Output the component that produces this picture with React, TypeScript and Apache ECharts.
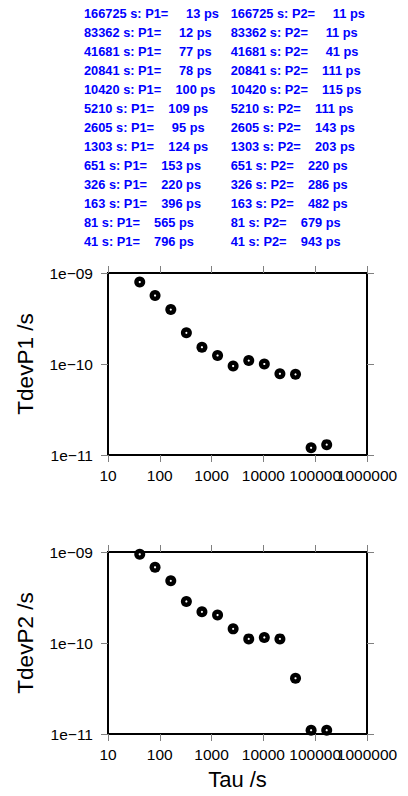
import React, { useEffect, useRef } from "react";
import * as echarts from "echarts";

// Averaging times (s)
const tau = [41, 81, 163, 326, 651, 1303, 2605, 5210, 10420, 20841, 41681, 83362, 166725];
// TDEV values in picoseconds
const p1ps = [796, 565, 396, 220, 153, 124, 95, 109, 100, 78, 77, 12, 13];
const p2ps = [943, 679, 482, 286, 220, 203, 143, 111, 115, 111, 41, 11, 11];
// Axis ranges
const xMin = 10;
const xMax = 1000000;
const yMin = 1e-11;
const yMax = 1e-9;
// x tick label drawn by the companion (top) axis so it is not dropped for overlapping its neighbour
const xOverlapLabel = 100000;

const FONT = "'Liberation Sans', Arial, Helvetica, sans-serif";

export default function App() {
  const ref = useRef<HTMLDivElement>(null);

  useEffect(() => {
    const chart = echarts.init(ref.current!, undefined, { renderer: "svg" });
    const toSec = (ps: number) => ps * 1e-12;
    const p1Data = tau.map((t, i) => [t, toSec(p1ps[i])]);
    const p2Data = tau.map((t, i) => [t, toSec(p2ps[i])]);

    const gridL = 108;
    const gridW = 259;
    const gridH = 182;
    const grids = [
      { left: gridL, top: 273, width: gridW, height: gridH },
      { left: gridL, top: 552, width: gridW, height: gridH },
    ].map((g) => ({ ...g, show: true, borderColor: "#000", borderWidth: 2, backgroundColor: "transparent" }));

    const tick = { show: true, inside: false, length: 7, lineStyle: { color: "#808080", width: 1 } };
    const labelMargin = 12;
    const labelBase = {
      fontSize: 15.5,
      color: "#000",
      fontFamily: FONT,
      hideOverlap: false,
      showMinLabel: true,
      showMaxLabel: true,
    };

    const xAxis: any[] = [];
    const yAxis: any[] = [];
    [0, 1].forEach((gi) => {
      ["bottom", "top"].forEach((pos) => {
        const main = pos === "bottom";
        xAxis.push({
          type: "log",
          logBase: 10,
          gridIndex: gi,
          position: pos,
          min: xMin,
          max: xMax,
          interval: 1,
          axisLine: { show: false },
          axisTick: tick,
          minorTick: { show: false },
          splitLine: { show: false },
          axisLabel: main
            ? {
                ...labelBase,
                margin: labelMargin,
                formatter: (v: number) => {
                  const r = Math.round(v);
                  return r === xOverlapLabel ? "" : String(r);
                },
              }
            : {
                ...labelBase,
                inside: true,
                margin: gridH + labelMargin,
                formatter: (v: number) => {
                  const r = Math.round(v);
                  return r === xOverlapLabel ? String(r) : "";
                },
              },
          name: main && gi === 1 ? "Tau /s" : "",
          nameLocation: "middle",
          nameGap: 34,
          nameTextStyle: { fontSize: 22, color: "#000", fontFamily: FONT },
        });
      });
      ["left", "right"].forEach((pos) => {
        const main = pos === "left";
        yAxis.push({
          type: "log",
          logBase: 10,
          gridIndex: gi,
          position: pos,
          min: yMin,
          max: yMax,
          interval: 1,
          axisLine: { show: false },
          axisTick: tick,
          minorTick: { show: false },
          splitLine: { show: false },
          axisLabel: {
            ...labelBase,
            show: main,
            margin: 15,
            formatter: (v: number) => {
              const e = Math.round(Math.log10(v));
              return "1e\u2212" + String(Math.abs(e)).padStart(2, "0");
            },
          },
          name: main ? (gi === 0 ? "TdevP1 /s" : "TdevP2 /s") : "",
          nameLocation: "middle",
          nameGap: 71,
          nameTextStyle: { fontSize: 22.5, color: "#000", fontFamily: FONT },
        });
      });
    });

    const mk = (data: number[][], gi: number) => [
      {
        type: "scatter",
        xAxisIndex: gi * 2,
        yAxisIndex: gi * 2,
        data,
        symbol: "circle",
        symbolSize: 11,
        itemStyle: { color: "#000", opacity: 1 },
        clip: false,
        silent: true,
        z: 3,
      },
      {
        type: "scatter",
        xAxisIndex: gi * 2,
        yAxisIndex: gi * 2,
        data,
        symbol: "circle",
        symbolSize: 2.2,
        itemStyle: { color: "#fff", opacity: 1 },
        clip: false,
        silent: true,
        z: 4,
      },
    ];

    // Table of values at the top
    const graphics: any[] = [];
    const row0 = 13.8;
    const rowH = 18.95;
    const colX = [84, 230.7];
    const order = tau.map((_, i) => i).reverse();
    const fmt = (t: number, label: string, v: number) =>
      `${t} s: ${label}=` + "\u00a0".repeat(Math.max(1, 7 - String(v).length)) + `${v} ps`;
    order.forEach((idx, r) => {
      const y = row0 + r * rowH;
      [
        { x: colX[0], text: fmt(tau[idx], "P1", p1ps[idx]) },
        { x: colX[1], text: fmt(tau[idx], "P2", p2ps[idx]) },
      ].forEach((c) => {
        graphics.push({
          type: "text",
          x: c.x,
          y,
          silent: true,
          style: {
            text: c.text,
            fill: "#0000ff",
            fontSize: 12.8,
            fontWeight: "bold",
            fontFamily: FONT,
            textAlign: "left",
            verticalAlign: "middle",
            textVerticalAlign: "middle",
          },
        });
      });
    });

    chart.setOption({
      animation: false,
      backgroundColor: "#fff",
      textStyle: { fontFamily: FONT },
      grid: grids,
      xAxis,
      yAxis,
      series: [...mk(p1Data, 0), ...mk(p2Data, 1)],
      graphic: graphics,
    });

    return () => chart.dispose();
  }, []);

  return (
    <div
      ref={ref}
      style={{ position: "fixed", left: 0, top: 0, width: 408, height: 796, background: "#fff" }}
    />
  );
}
